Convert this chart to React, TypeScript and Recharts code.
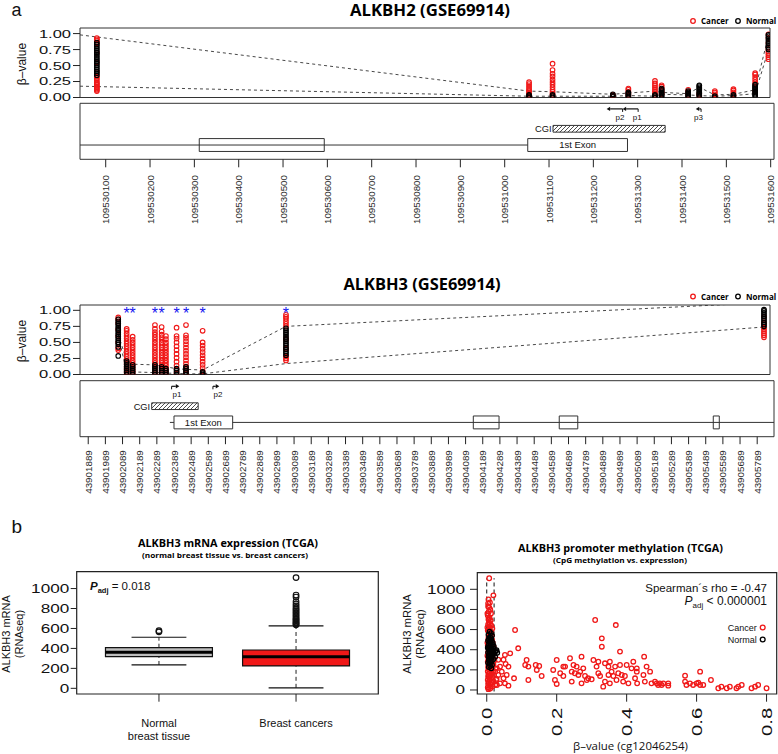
import React from "react";
import { ComposedChart, Scatter, Line, XAxis, YAxis, ReferenceArea, ReferenceLine, ReferenceDot } from "recharts";

const RED = "#f01818";
const BLUE = "#1515f0";
const INK = "#111";
const SANS = "'Liberation Sans', Arial, Helvetica, sans-serif";
const OPEN = "'Open Sans', 'Liberation Sans', sans-serif";

// ===== Panel a: ALKBH2 (GSE69914) =====
const alkbh2Positions = [109530080, 109531055, 109531108, 109531244, 109531279, 109531339, 109531354, 109531414, 109531439, 109531474, 109531516, 109531565, 109531595];
const alkbh2Cancer = [
  [0.10, 0.12, 0.14, 0.16, 0.18, 0.20, 0.22, 0.24, 0.27, 0.30, 0.33, 0.40, 0.55, 0.70, 0.85, 0.89, 0.91, 0.93],
  [0.02, 0.04, 0.06, 0.08, 0.10, 0.12, 0.15, 0.18, 0.21, 0.24],
  [0.03, 0.06, 0.09, 0.12, 0.16, 0.20, 0.24, 0.28, 0.33, 0.37, 0.43, 0.53],
  [0.02, 0.04],
  [0.03, 0.06, 0.09, 0.12, 0.14],
  [0.04, 0.07, 0.10, 0.13, 0.16, 0.19, 0.22, 0.26],
  [0.05, 0.08, 0.11, 0.14, 0.17, 0.19],
  [0.03, 0.06, 0.09, 0.12],
  [0.03, 0.06],
  [0.02, 0.05, 0.08, 0.10],
  [0.02, 0.05, 0.08, 0.11, 0.13],
  [0.10, 0.15, 0.20, 0.24, 0.28, 0.32, 0.36, 0.38],
  [0.60, 0.63, 0.66, 0.69, 0.72, 0.76, 0.85, 0.93, 0.99],
];
const alkbh2Normal = [
  [0.35, 0.38, 0.41, 0.44, 0.47, 0.50, 0.53, 0.56, 0.59, 0.62, 0.65, 0.68, 0.71, 0.74, 0.77, 0.80, 0.83, 0.86],
  [0.00, 0.02, 0.04],
  [0.00, 0.02, 0.04],
  [0.01, 0.03, 0.05],
  [0.00, 0.02, 0.04, 0.06, 0.08],
  [0.00, 0.02, 0.04],
  [0.00, 0.02, 0.04, 0.06, 0.08, 0.10, 0.12, 0.14],
  [0.00, 0.02, 0.04, 0.06, 0.08, 0.10],
  [0.02, 0.04, 0.06, 0.08, 0.10, 0.12, 0.14, 0.16, 0.18, 0.19],
  [0.00, 0.02],
  [0.00, 0.02, 0.04],
  [0.02, 0.04, 0.06, 0.08, 0.10, 0.12, 0.14, 0.16, 0.18, 0.20],
  [0.75, 0.78, 0.81, 0.84, 0.87, 0.90, 0.93, 0.96, 0.98],
];
const alkbh2LinePositions = [109530042, 109531055, 109531108, 109531244, 109531279, 109531339, 109531354, 109531414, 109531439, 109531474, 109531516, 109531565, 109531595];
const alkbh2UpperLine = [0.98, 0.10, 0.09, 0.05, 0.07, 0.10, 0.08, 0.06, 0.16, 0.04, 0.05, 0.12, 0.97];
const alkbh2LowerLine = [0.177, 0.02, 0.02, 0.02, 0.03, 0.02, 0.05, 0.04, 0.03, 0.02, 0.03, 0.06, 0.75];
const alkbh2Ticks = [109530100, 109530200, 109530300, 109530400, 109530500, 109530600, 109530700, 109530800, 109530900, 109531000, 109531100, 109531200, 109531300, 109531400, 109531500, 109531600];
const alkbh2Exons = [
  { start: 109530311, end: 109530593, label: "" },
  { start: 109531052, end: 109531277, label: "1st Exon" },
];
const alkbh2Introns = [{ start: 109530042, end: 109531052 }];
const alkbh2Cgi = { start: 109531109, end: 109531362 };
const alkbh2Promoters = [
  { name: "p1", from: 109531301, to: 109531266, labelAt: 109531299 },
  { name: "p2", from: 109531266, to: 109531230, labelAt: 109531260 },
  { name: "p3", from: 109531443, to: 109531431, labelAt: 109531437 },
];

// ===== Panel a: ALKBH3 (GSE69914) =====
const alkbh3Positions = [43902064, 43902113, 43902148, 43902278, 43902317, 43902342, 43902404, 43902459, 43902556, 43903042, 43905829];
const alkbh3Significant = [false, true, true, true, true, false, true, true, true, true, false];
const alkbh3Cancer = [
  [0.38, 0.41, 0.50, 0.60, 0.70, 0.80, 0.86, 0.89],
  [0.00, 0.04, 0.08, 0.12, 0.16, 0.20, 0.24, 0.28, 0.32, 0.36, 0.40, 0.44, 0.48, 0.52, 0.56, 0.60, 0.64, 0.68, 0.71],
  [0.02, 0.06, 0.10, 0.14, 0.18, 0.22, 0.26, 0.30, 0.34, 0.38, 0.42, 0.46, 0.50, 0.54, 0.59],
  [0.02, 0.06, 0.10, 0.14, 0.18, 0.22, 0.26, 0.30, 0.34, 0.38, 0.42, 0.46, 0.50, 0.54, 0.58, 0.62, 0.66, 0.71, 0.77],
  [0.02, 0.06, 0.10, 0.14, 0.18, 0.22, 0.26, 0.30, 0.34, 0.38, 0.42, 0.46, 0.50, 0.54, 0.58, 0.62, 0.67, 0.74],
  [0.02, 0.06, 0.10, 0.14, 0.18, 0.22, 0.26, 0.30, 0.34, 0.38, 0.42, 0.46, 0.50, 0.55, 0.60],
  [0.02, 0.08, 0.14, 0.20, 0.26, 0.32, 0.38, 0.44, 0.50, 0.56, 0.60, 0.73],
  [0.02, 0.07, 0.12, 0.17, 0.22, 0.27, 0.32, 0.37, 0.42, 0.47, 0.52, 0.57, 0.61, 0.77],
  [0.00, 0.05, 0.10, 0.15, 0.20, 0.25, 0.30, 0.35, 0.40, 0.45, 0.50, 0.68],
  [0.22, 0.25, 0.28, 0.40, 0.55, 0.75, 0.79, 0.83, 0.87, 0.90, 0.93],
  [0.58, 0.61, 0.64, 0.67, 0.70, 0.73, 0.80, 0.90],
];
const alkbh3Normal = [
  [0.29, 0.43, 0.47, 0.50, 0.53, 0.56, 0.59, 0.62, 0.65, 0.68, 0.71, 0.74, 0.77, 0.80, 0.83, 0.86],
  [0.00, 0.03, 0.06, 0.09, 0.12, 0.15, 0.18, 0.21],
  [0.00, 0.03, 0.06, 0.09, 0.12, 0.15],
  [0.00, 0.03, 0.06, 0.09, 0.12, 0.15],
  [0.00, 0.03, 0.06, 0.09, 0.12],
  [0.00, 0.03, 0.06, 0.09],
  [0.00, 0.03, 0.06, 0.09],
  [0.00, 0.03, 0.06, 0.09, 0.12],
  [0.00, 0.02, 0.04],
  [0.30, 0.33, 0.36, 0.39, 0.42, 0.45, 0.48, 0.51, 0.54, 0.57, 0.60, 0.63, 0.66, 0.69, 0.72],
  [0.75, 0.78, 0.81, 0.84, 0.87, 0.90, 0.93, 0.96, 0.99, 1.01],
];
const alkbh3UpperLine = [0.62, 0.22, 0.16, 0.15, 0.13, 0.12, 0.09, 0.08, 0.07, 0.75, 1.12];
const alkbh3LowerLine = [0.60, 0.05, 0.04, 0.03, 0.03, 0.02, 0.02, 0.01, 0.01, 0.17, 0.74];
const alkbh3StarLevel = 1.01;
const alkbh3Ticks = [43901889, 43901989, 43902089, 43902189, 43902289, 43902389, 43902489, 43902589, 43902689, 43902789, 43902889, 43902989, 43903089, 43903189, 43903289, 43903389, 43903489, 43903589, 43903689, 43903789, 43903889, 43903989, 43904089, 43904189, 43904289, 43904389, 43904489, 43904589, 43904689, 43904789, 43904889, 43904989, 43905089, 43905189, 43905289, 43905389, 43905489, 43905589, 43905689, 43905789];
const alkbh3Exons = [
  { start: 43902389, end: 43902731, label: "1st Exon" },
  { start: 43904134, end: 43904284, label: "" },
  { start: 43904635, end: 43904743, label: "" },
  { start: 43905533, end: 43905568, label: "" },
];
const alkbh3Introns = [
  { start: 43902365, end: 43902389 },
  { start: 43902731, end: 43905887 },
];
const alkbh3Cgi = { start: 43902259, end: 43902530 };
const alkbh3Promoters = [
  { name: "p1", from: 43902375, to: 43902420, labelAt: 43902406 },
  { name: "p2", from: 43902616, to: 43902653, labelAt: 43902645 },
];

// ===== Panel b left: expression boxplot =====
const boxLabels = [["Normal", "breast tissue"], ["Breast cancers"]];
const boxStats = [
  { pos: 1, min: 234, q1: 317, median: 361, q3: 407, max: 512 },
  { pos: 2, min: 5, q1: 224, median: 317, q3: 384, max: 625 },
];
const boxFills = ["#bebebe", RED];
const normalOutliers = [566, 578];
const cancerOutliers = [1110, 935, 915, 870, 845, 825, 805, 790, 775, 760, 745, 730, 715, 700, 690, 678, 665, 655, 645, 636];
const expressionTicks = [0, 200, 400, 600, 800, 1000];

// ===== Panel b right: methylation vs expression =====
const methylCancer = [
  [0.007, 1110], [0.019, 940], [0.005, 900], [0.009, 870], [0.004, 830], [0.010, 800], [0.006, 780], [0.012, 760], [0.003, 740], [0.008, 720],
  [0.005, 700], [0.011, 690], [0.007, 670], [0.004, 650], [0.013, 640], [0.009, 620], [0.006, 600], [0.016, 610], [0.003, 590], [0.010, 570],
  [0.007, 555], [0.014, 540], [0.005, 525], [0.011, 510], [0.004, 495], [0.008, 480], [0.017, 470], [0.006, 460], [0.012, 450], [0.003, 440],
  [0.009, 430], [0.020, 425], [0.005, 415], [0.014, 405], [0.007, 395], [0.010, 385], [0.004, 375], [0.018, 370], [0.012, 360], [0.006, 350],
  [0.002, 340], [0.009, 330], [0.015, 320], [0.005, 310], [0.011, 300], [0.022, 295], [0.007, 290], [0.003, 280], [0.013, 270], [0.008, 262],
  [0.019, 255], [0.005, 250], [0.010, 240], [0.016, 232], [0.004, 225], [0.009, 215], [0.025, 210], [0.006, 205], [0.012, 195], [0.003, 185],
  [0.018, 180], [0.008, 172], [0.014, 165], [0.005, 158], [0.021, 150], [0.010, 145], [0.004, 135], [0.016, 128], [0.007, 120], [0.012, 112],
  [0.028, 110], [0.003, 100], [0.009, 95], [0.019, 88], [0.006, 80], [0.014, 72], [0.004, 62], [0.011, 55], [0.024, 50], [0.007, 42],
  [0.016, 35], [0.003, 25], [0.010, 15], [0.005, 8], [0.013, 320], [0.017, 350], [0.002, 470], [0.015, 500], [0.008, 540], [0.013, 580],
  [0.002, 620], [0.009, 650], [0.006, 710], [0.002, 760], [0.007, 820], [0.004, 860],
  [0.052, 348], [0.048, 300], [0.062, 232], [0.090, 414], [0.081, 596], [0.067, 364], [0.054, 258], [0.043, 182], [0.057, 149], [0.038, 66],
  [0.052, 66], [0.062, 43], [0.029, 49], [0.078, 116], [0.114, 298], [0.110, 248], [0.119, 232], [0.140, 248], [0.143, 199], [0.150, 238],
  [0.157, 139], [0.119, 99], [0.190, 199], [0.200, 298], [0.195, 99], [0.200, 60], [0.210, 166], [0.219, 232], [0.224, 232], [0.219, 139],
  [0.238, 315], [0.243, 182], [0.248, 248], [0.252, 166], [0.243, 83], [0.257, 232], [0.262, 149], [0.267, 182], [0.271, 331], [0.271, 66],
  [0.276, 215], [0.281, 139], [0.286, 99], [0.290, 116], [0.300, 106], [0.310, 695], [0.305, 298], [0.314, 232], [0.319, 281], [0.319, 166],
  [0.324, 139], [0.329, 513], [0.329, 430], [0.333, 33], [0.338, 265], [0.338, 83], [0.348, 232], [0.348, 149], [0.352, 281], [0.352, 66],
  [0.357, 182], [0.362, 139], [0.367, 232], [0.369, 645], [0.371, 99], [0.376, 166], [0.381, 381], [0.381, 248], [0.386, 149], [0.390, 83],
  [0.395, 139], [0.400, 248], [0.405, 66], [0.414, 215], [0.419, 281], [0.424, 116], [0.429, 215], [0.429, 182], [0.430, 66], [0.448, 149],
  [0.450, 331], [0.452, 83], [0.457, 232], [0.467, 182], [0.471, 66], [0.481, 83], [0.486, 66], [0.490, 50], [0.495, 66], [0.500, 50],
  [0.505, 66], [0.519, 66], [0.519, 43], [0.567, 142], [0.567, 83], [0.571, 50], [0.581, 66], [0.590, 50], [0.600, 66], [0.605, 73],
  [0.610, 182], [0.610, 50], [0.619, 50], [0.641, 99], [0.662, 17], [0.671, 33], [0.686, 17], [0.695, 33], [0.714, 17], [0.719, 33],
  [0.729, 50], [0.757, 17], [0.767, 33], [0.776, 50], [0.800, 17], [0.033, 300], [0.038, 232], [0.033, 149], [0.027, 99], [0.048, 116],
  [0.024, 182], [0.029, 215],
];
const methylNormal = [
  [0.008, 580], [0.012, 565], [0.005, 550], [0.015, 540], [0.009, 525], [0.006, 510], [0.013, 500], [0.004, 490], [0.010, 480], [0.017, 470],
  [0.007, 460], [0.012, 450], [0.005, 440], [0.020, 435], [0.009, 425], [0.014, 415], [0.006, 405], [0.011, 398], [0.018, 390], [0.025, 385],
  [0.008, 380], [0.004, 372], [0.013, 365], [0.022, 360], [0.007, 355], [0.010, 345], [0.016, 340], [0.005, 332], [0.012, 325], [0.009, 315],
  [0.019, 305], [0.006, 298], [0.014, 290], [0.011, 280], [0.004, 270], [0.008, 262], [0.015, 250], [0.010, 238], [0.006, 228], [0.013, 215],
  [0.028, 395], [0.030, 370], [0.024, 330], [0.020, 410], [0.017, 450], [0.003, 420], [0.007, 500], [0.011, 520],
];
const methylGuides = [0.0, 0.021];
const methylGuideRange = [-15, 1110];
const betaTicks = [0, 0.2, 0.4, 0.6, 0.8];

// ---------- helpers ----------
const toPoints = (positions: number[], values: number[][]) =>
  positions.flatMap((p, i) => values[i].map((v) => ({ x: p, y: v })));
const toLine = (positions: number[], values: number[]) => positions.map((p, i) => ({ x: p, y: values[i] }));
const pairs = (arr: number[][]) => arr.map(([x, y]) => ({ x, y }));

const circleShape = (color: string, r: number, sw: number) => (p: any) =>
  <circle cx={p.cx} cy={p.cy} r={r} fill="none" stroke={color} strokeWidth={sw} />;

const starShape = (p: any) => (
  <text x={p.cx} y={p.cy} dy={9} textAnchor="middle" fontSize={16} fontFamily={SANS} fill={BLUE}>*</text>
);

const stretchYTick = (fs: number, sx: number, fmt: (v: number) => string) => (p: any) => (
  <text transform={`translate(${p.x},${p.y}) scale(${sx},1)`} textAnchor="end" dy="0.36em" fontSize={fs} fontFamily={SANS} fill={INK}>
    {fmt(p.payload.value)}
  </text>
);

const rotXTick = (fs: number, sx: number, fmt: (v: number) => string, color: string) => (p: any) => (
  <text transform={`translate(${p.x},${p.y}) rotate(-90) scale(${sx},1)`} textAnchor="end" dy="0.36em" fontSize={fs} fontFamily={SANS} fill={color}>
    {fmt(p.payload.value)}
  </text>
);

const textShape = (label: string, fs: number, anchor: string, dx = 0) => (p: any) => (
  <text x={p.cx + dx} y={p.cy} dy="0.36em" textAnchor={anchor} fontSize={fs} fontFamily={SANS} fill={INK}>{label}</text>
);

const arrowShape = (p: any) => {
  const { x1, y1, x2, y2 } = p;
  const d = x2 > x1 ? 1 : -1;
  const head = 3.5;
  return (
    <g>
      <line x1={x1} y1={y1 + 3} x2={x1} y2={y1} stroke={INK} strokeWidth={1} />
      <line x1={x1} y1={y1} x2={x2 - d * head} y2={y2} stroke={INK} strokeWidth={1.2} />
      <polygon points={`${x2},${y2} ${x2 - d * head},${y2 - 2.2} ${x2 - d * head},${y2 + 2.2}`} fill={INK} />
    </g>
  );
};

const Pos = ({ left, top, children }: any) => (
  <div style={{ position: "absolute", left, top }}>{children}</div>
);

// ---------- methylation track ----------
function MethylPlot({ height, margin, xDomain, yDomain, cancer, normal, upper, lower, stars }: any) {
  return (
    <ComposedChart width={778} height={height} margin={margin}>
      <XAxis type="number" dataKey="x" domain={xDomain} hide allowDataOverflow />
      <YAxis type="number" dataKey="y" domain={yDomain} width={80} ticks={[0, 0.25, 0.5, 0.75, 1]} interval={0}
        tickSize={7} tickMargin={2} axisLine={false} tickLine={{ stroke: "#222" }} allowDataOverflow
        tick={stretchYTick(11, 1.5, (v) => v.toFixed(2))} />
      <Scatter data={cancer} shape={circleShape(RED, 2.3, 1.1)} isAnimationActive={false} />
      <Scatter data={normal} shape={circleShape("#000", 2.3, 1.1)} isAnimationActive={false} />
      <Line data={upper} dataKey="y" type="linear" stroke="#333" strokeWidth={0.9} strokeDasharray="3 3" dot={false} isAnimationActive={false} />
      <Line data={lower} dataKey="y" type="linear" stroke="#333" strokeWidth={0.9} strokeDasharray="3 3" dot={false} isAnimationActive={false} />
      {stars ? <Scatter data={stars} shape={starShape} isAnimationActive={false} /> : null}
      <ReferenceArea x1={xDomain[0]} x2={xDomain[1]} y1={yDomain[0]} y2={yDomain[1]} fill="none" stroke="#333" strokeWidth={1} ifOverflow="visible" />
    </ComposedChart>
  );
}

// gene-structure track levels (0..10)
const EXON_LO = 1.4, EXON_HI = 3.7, INTRON_Y = 2.55, CGI_LO = 4.85, CGI_HI = 6.05, ARROW_Y = 9.0, PLABEL_Y = 7.6;

function GeneTrack({ marginTop, axisHeight, xDomain, ticks, exons, introns, cgi, promoters, tickSize, tickMargin }: any) {
  return (
    <ComposedChart width={778} height={150} margin={{ top: marginTop, right: 4, bottom: 0, left: 80 }}>
      <XAxis type="number" dataKey="x" domain={xDomain} ticks={ticks} interval={0} height={axisHeight}
        tickSize={tickSize} tickMargin={tickMargin} axisLine={false} tickLine={{ stroke: "#222" }} allowDataOverflow
        tick={rotXTick(9.8, 1, (v) => String(v), "#2a2a2a")} />
      <YAxis type="number" dataKey="y" domain={[0, 10]} hide allowDataOverflow />
      <ReferenceArea x1={xDomain[0]} x2={xDomain[1]} y1={0} y2={10} fill="none" stroke="#333" strokeWidth={1} ifOverflow="visible" />
      {introns.map((s: any, i: number) => (
        <ReferenceLine key={"in" + i} segment={[{ x: s.start, y: INTRON_Y }, { x: s.end, y: INTRON_Y }]} stroke="#333" strokeWidth={1} ifOverflow="visible" />
      ))}
      {exons.map((e: any, i: number) => (
        <ReferenceArea key={"ex" + i} x1={e.start} x2={e.end} y1={EXON_LO} y2={EXON_HI} fill="#fff" fillOpacity={1} stroke="#333" strokeWidth={1} ifOverflow="visible" />
      ))}
      {exons.filter((e: any) => e.label).map((e: any, i: number) => (
        <ReferenceDot key={"exl" + i} x={(e.start + e.end) / 2} y={(EXON_LO + EXON_HI) / 2} shape={textShape(e.label, 9.5, "middle")} ifOverflow="visible" />
      ))}
      <ReferenceArea x1={cgi.start} x2={cgi.end} y1={CGI_LO} y2={CGI_HI} fill="url(#cgiHatch)" fillOpacity={1} stroke="#333" strokeWidth={1} ifOverflow="visible" />
      <ReferenceDot x={cgi.start} y={(CGI_LO + CGI_HI) / 2} shape={textShape("CGI", 9.3, "end", -1.5)} ifOverflow="visible" />
      {promoters.map((p: any, i: number) => (
        <ReferenceLine key={"pa" + i} segment={[{ x: p.from, y: ARROW_Y }, { x: p.to, y: ARROW_Y }]} shape={arrowShape} ifOverflow="visible" />
      ))}
      {promoters.map((p: any, i: number) => (
        <ReferenceDot key={"pl" + i} x={p.labelAt} y={PLABEL_Y} shape={textShape(p.name, 8, "middle")} ifOverflow="visible" />
      ))}
    </ComposedChart>
  );
}

// ---------- boxplot ----------
const BOX_HALF = 0.39, CAP_HALF = 0.2;
function ExpressionBox() {
  const xDomain = [0.4, 2.6];
  const yDomain = [-57, 1169];
  const outliers = [
    ...normalOutliers.map((v) => ({ x: 1, y: v })),
    ...cancerOutliers.map((v) => ({ x: 2, y: v })),
  ];
  return (
    <ComposedChart width={390} height={234} margin={{ top: 51.7, right: 11.7, bottom: 0, left: 0 }}>
      <XAxis type="number" dataKey="x" domain={xDomain} ticks={[1, 2]} interval={0} height={60} tickSize={7.7} tickMargin={25}
        axisLine={false} tickLine={{ stroke: "#222" }} allowDataOverflow
        tick={(p: any) => {
          const lines = boxLabels[p.payload.value - 1] || [];
          return (
            <g>
              {lines.map((l, i) => (
                <text key={i} x={p.x} y={p.y + i * 13.6} textAnchor="middle" fontSize={11} fontFamily={SANS} fill={INK}>{l}</text>
              ))}
            </g>
          );
        }} />
      <YAxis type="number" dataKey="y" domain={yDomain} width={76.7} ticks={expressionTicks} interval={0} tickSize={6} tickMargin={1.5}
        axisLine={false} tickLine={{ stroke: "#222" }} allowDataOverflow tick={stretchYTick(12.5, 1.37, (v) => String(v))} />
      {boxStats.map((b, i) => (
        <ReferenceLine key={"wu" + i} segment={[{ x: b.pos, y: b.q3 }, { x: b.pos, y: b.max }]} stroke="#222" strokeDasharray="4 3" ifOverflow="visible" />
      ))}
      {boxStats.map((b, i) => (
        <ReferenceLine key={"wl" + i} segment={[{ x: b.pos, y: b.min }, { x: b.pos, y: b.q1 }]} stroke="#222" strokeDasharray="4 3" ifOverflow="visible" />
      ))}
      {boxStats.map((b, i) => (
        <ReferenceLine key={"cu" + i} segment={[{ x: b.pos - CAP_HALF, y: b.max }, { x: b.pos + CAP_HALF, y: b.max }]} stroke="#111" strokeWidth={1.2} ifOverflow="visible" />
      ))}
      {boxStats.map((b, i) => (
        <ReferenceLine key={"cl" + i} segment={[{ x: b.pos - CAP_HALF, y: b.min }, { x: b.pos + CAP_HALF, y: b.min }]} stroke="#111" strokeWidth={1.2} ifOverflow="visible" />
      ))}
      {boxStats.map((b, i) => (
        <ReferenceArea key={"bx" + i} x1={b.pos - BOX_HALF} x2={b.pos + BOX_HALF} y1={b.q1} y2={b.q3} fill={boxFills[i]} fillOpacity={1} stroke="#111" strokeWidth={1.2} ifOverflow="visible" />
      ))}
      {boxStats.map((b, i) => (
        <ReferenceLine key={"md" + i} segment={[{ x: b.pos - BOX_HALF, y: b.median }, { x: b.pos + BOX_HALF, y: b.median }]} stroke="#000" strokeWidth={3} ifOverflow="visible" />
      ))}
      <Scatter data={outliers} shape={circleShape("#111", 2.8, 1.2)} isAnimationActive={false} />
      <ReferenceArea x1={xDomain[0]} x2={xDomain[1]} y1={yDomain[0]} y2={yDomain[1]} fill="none" stroke="#222" strokeWidth={1.2} ifOverflow="visible" />
    </ComposedChart>
  );
}

// ---------- methylation vs expression scatter ----------
function MethylScatter() {
  const xDomain = [-0.027, 0.829];
  const yDomain = [-40, 1165];
  return (
    <ComposedChart width={388} height={234} margin={{ top: 52.7, right: 1.3, bottom: 0, left: 0 }}>
      <XAxis type="number" dataKey="x" domain={xDomain} ticks={betaTicks} interval={0} height={60} tickSize={7.7} tickMargin={6}
        axisLine={false} tickLine={{ stroke: "#222" }} allowDataOverflow tick={rotXTick(14, 1.45, (v) => v.toFixed(1), INK)} />
      <YAxis type="number" dataKey="y" domain={yDomain} width={87.3} ticks={expressionTicks} interval={0} tickSize={7.3} tickMargin={5}
        axisLine={false} tickLine={{ stroke: "#222" }} allowDataOverflow tick={stretchYTick(12.5, 1.37, (v) => String(v))} />
      <Scatter data={pairs(methylCancer)} shape={circleShape(RED, 2.3, 1.3)} isAnimationActive={false} />
      <Scatter data={pairs(methylNormal)} shape={circleShape("#000", 2.3, 1.3)} isAnimationActive={false} />
      {methylGuides.map((g, i) => (
        <ReferenceLine key={"g" + i} segment={[{ x: g, y: methylGuideRange[0] }, { x: g, y: methylGuideRange[1] }]} stroke="#111" strokeWidth={1} strokeDasharray="4 3" ifOverflow="visible" />
      ))}
      <ReferenceArea x1={xDomain[0]} x2={xDomain[1]} y1={yDomain[0]} y2={yDomain[1]} fill="none" stroke="#222" strokeWidth={1.2} ifOverflow="visible" />
    </ComposedChart>
  );
}

const VText = ({ x, y, fs, ff = SANS, children, weight = "normal" }: any) => (
  <text transform={`translate(${x},${y}) rotate(-90)`} textAnchor="middle" fontSize={fs} fontFamily={ff} fontWeight={weight} fill={INK}>{children}</text>
);

function Overlay() {
  return (
    <svg width={778} height={754} style={{ position: "absolute", left: 0, top: 0, pointerEvents: "none" }}>
      <text x={11.5} y={16.3} fontSize={18} fontFamily={SANS} fill={INK}>a</text>
      <text x={11.5} y={533} fontSize={19} fontFamily={SANS} fill={INK}>b</text>

      <text x={430} y={15.5} textAnchor="middle" fontSize={16} fontWeight="bold" fontFamily={OPEN} fill="#000" textLength={160} lengthAdjust="spacingAndGlyphs">ALKBH2 (GSE69914)</text>
      <circle cx={693} cy={21} r={2.3} fill="none" stroke={RED} strokeWidth={1.3} />
      <text x={701} y={24} fontSize={8} fontWeight="bold" fontFamily={OPEN} fill="#000">Cancer</text>
      <circle cx={738} cy={21} r={2.3} fill="none" stroke="#000" strokeWidth={1.3} />
      <text x={746} y={24} fontSize={8} fontWeight="bold" fontFamily={OPEN} fill="#000">Normal</text>
      <VText x={25.5} y={64} fs={12}>β–value</VText>

      <text x={422} y={289.5} textAnchor="middle" fontSize={16.5} fontWeight="bold" fontFamily={OPEN} fill="#000" textLength={157} lengthAdjust="spacingAndGlyphs">ALKBH3 (GSE69914)</text>
      <circle cx={693} cy={296.5} r={2.3} fill="none" stroke={RED} strokeWidth={1.3} />
      <text x={701} y={299.5} fontSize={8} fontWeight="bold" fontFamily={OPEN} fill="#000">Cancer</text>
      <circle cx={738} cy={296.5} r={2.3} fill="none" stroke="#000" strokeWidth={1.3} />
      <text x={746} y={299.5} fontSize={8} fontWeight="bold" fontFamily={OPEN} fill="#000">Normal</text>
      <VText x={25.5} y={341} fs={12}>β–value</VText>

      <text x={228} y={546.5} textAnchor="middle" fontSize={10.5} fontWeight="bold" fontFamily={OPEN} fill="#000" textLength={180} lengthAdjust="spacingAndGlyphs">ALKBH3 mRNA expression (TCGA)</text>
      <text x={225} y={557.5} textAnchor="middle" fontSize={7.5} fontWeight="bold" fontFamily={OPEN} fill="#000" textLength={166} lengthAdjust="spacingAndGlyphs">(normal breast tissue vs. breast cancers)</text>
      <VText x={9.5} y={634} fs={11}>ALKBH3 mRNA</VText>
      <VText x={23} y={634} fs={11}>(RNAseq)</VText>
      <text x={90} y={590} fontSize={11.5} fontFamily={SANS} fill={INK}>
        <tspan fontStyle="italic" fontWeight="bold">P</tspan>
        <tspan fontSize={7.5} dy={2.5} fontWeight="bold">adj</tspan>
        <tspan dy={-2.5}> = 0.018</tspan>
      </text>

      <text x={620.5} y={551.5} textAnchor="middle" fontSize={10.5} fontWeight="bold" fontFamily={OPEN} fill="#000" textLength={205} lengthAdjust="spacingAndGlyphs">ALKBH3 promoter methylation (TCGA)</text>
      <text x={620} y={563} textAnchor="middle" fontSize={7.5} fontWeight="bold" fontFamily={OPEN} fill="#000" textLength={134} lengthAdjust="spacingAndGlyphs">(CpG methylation vs. expression)</text>
      <VText x={410.5} y={634} fs={11.3}>ALKBH3 mRNA</VText>
      <VText x={424} y={634} fs={11.3}>(RNAseq)</VText>
      <text x={767} y={591.5} textAnchor="end" fontSize={11.5} fontFamily={SANS} fill={INK}>Spearman´s rho = -0.47</text>
      <text x={767} y={605} textAnchor="end" fontSize={12} fontFamily={SANS} fill={INK}>
        <tspan fontStyle="italic">P</tspan>
        <tspan fontSize={8} dy={3}>adj</tspan>
        <tspan dy={-3}> &lt; 0.000001</tspan>
      </text>
      <text x={756.7} y={630.7} textAnchor="end" fontSize={9} fontFamily={SANS} fill={INK}>Cancer</text>
      <circle cx={762.7} cy={627.5} r={2.4} fill="none" stroke={RED} strokeWidth={1.3} />
      <text x={756.7} y={642.7} textAnchor="end" fontSize={9} fontFamily={SANS} fill={INK}>Normal</text>
      <circle cx={762.7} cy={639.5} r={2.4} fill="none" stroke="#000" strokeWidth={1.3} />
      <text x={630.5} y={750} textAnchor="middle" fontSize={11.5} fontFamily={OPEN} fill={INK} textLength={115} lengthAdjust="spacingAndGlyphs">β–value (cg12046254)</text>
    </svg>
  );
}

export default function App() {
  const a2Cancer = toPoints(alkbh2Positions, alkbh2Cancer);
  const a2Normal = toPoints(alkbh2Positions, alkbh2Normal);
  const a3Cancer = toPoints(alkbh3Positions, alkbh3Cancer);
  const a3Normal = toPoints(alkbh3Positions, alkbh3Normal);
  const a3Stars = alkbh3Positions.filter((_, i) => alkbh3Significant[i]).map((p) => ({ x: p, y: alkbh3StarLevel }));
  return (
    <div style={{ position: "absolute", left: 0, top: 0, width: 778, height: 754, background: "#fff", overflow: "hidden" }}>
      <svg width={0} height={0} style={{ position: "absolute" }}>
        <defs>
          <pattern id="cgiHatch" patternUnits="userSpaceOnUse" width={4} height={4}>
            <path d="M-1,1 l2,-2 M0,4 l4,-4 M3,5 l2,-2" stroke="#222" strokeWidth={0.8} />
          </pattern>
        </defs>
      </svg>
      <Pos left={0} top={0}>
        <MethylPlot height={106} margin={{ top: 28, right: 8, bottom: 8.5, left: 0 }}
          xDomain={[109530042, 109531598.5]} yDomain={[0, 1.0875]}
          cancer={a2Cancer} normal={a2Normal}
          upper={toLine(alkbh2LinePositions, alkbh2UpperLine)} lower={toLine(alkbh2LinePositions, alkbh2LowerLine)} />
      </Pos>
      <Pos left={0} top={100}>
        <GeneTrack marginTop={3.3} axisHeight={90.7} xDomain={[109530042, 109531607.5]} ticks={alkbh2Ticks}
          exons={alkbh2Exons} introns={alkbh2Introns} cgi={alkbh2Cgi} promoters={alkbh2Promoters} tickSize={8} tickMargin={7.7} />
      </Pos>
      <Pos left={0} top={260}>
        <MethylPlot height={126} margin={{ top: 45, right: 8, bottom: 11.5, left: 0 }}
          xDomain={[43901841, 43905864]} yDomain={[0, 1.083]}
          cancer={a3Cancer} normal={a3Normal}
          upper={toLine(alkbh3Positions, alkbh3UpperLine)} lower={toLine(alkbh3Positions, alkbh3LowerLine)} stars={a3Stars} />
      </Pos>
      <Pos left={0} top={376}>
        <GeneTrack marginTop={4.7} axisHeight={89.3} xDomain={[43901841, 43905887]} ticks={alkbh3Ticks}
          exons={alkbh3Exons} introns={alkbh3Introns} cgi={alkbh3Cgi} promoters={alkbh3Promoters} tickSize={7.5} tickMargin={6} />
      </Pos>
      <Pos left={0} top={520}>
        <ExpressionBox />
      </Pos>
      <Pos left={390} top={520}>
        <MethylScatter />
      </Pos>
      <Overlay />
    </div>
  );
}
